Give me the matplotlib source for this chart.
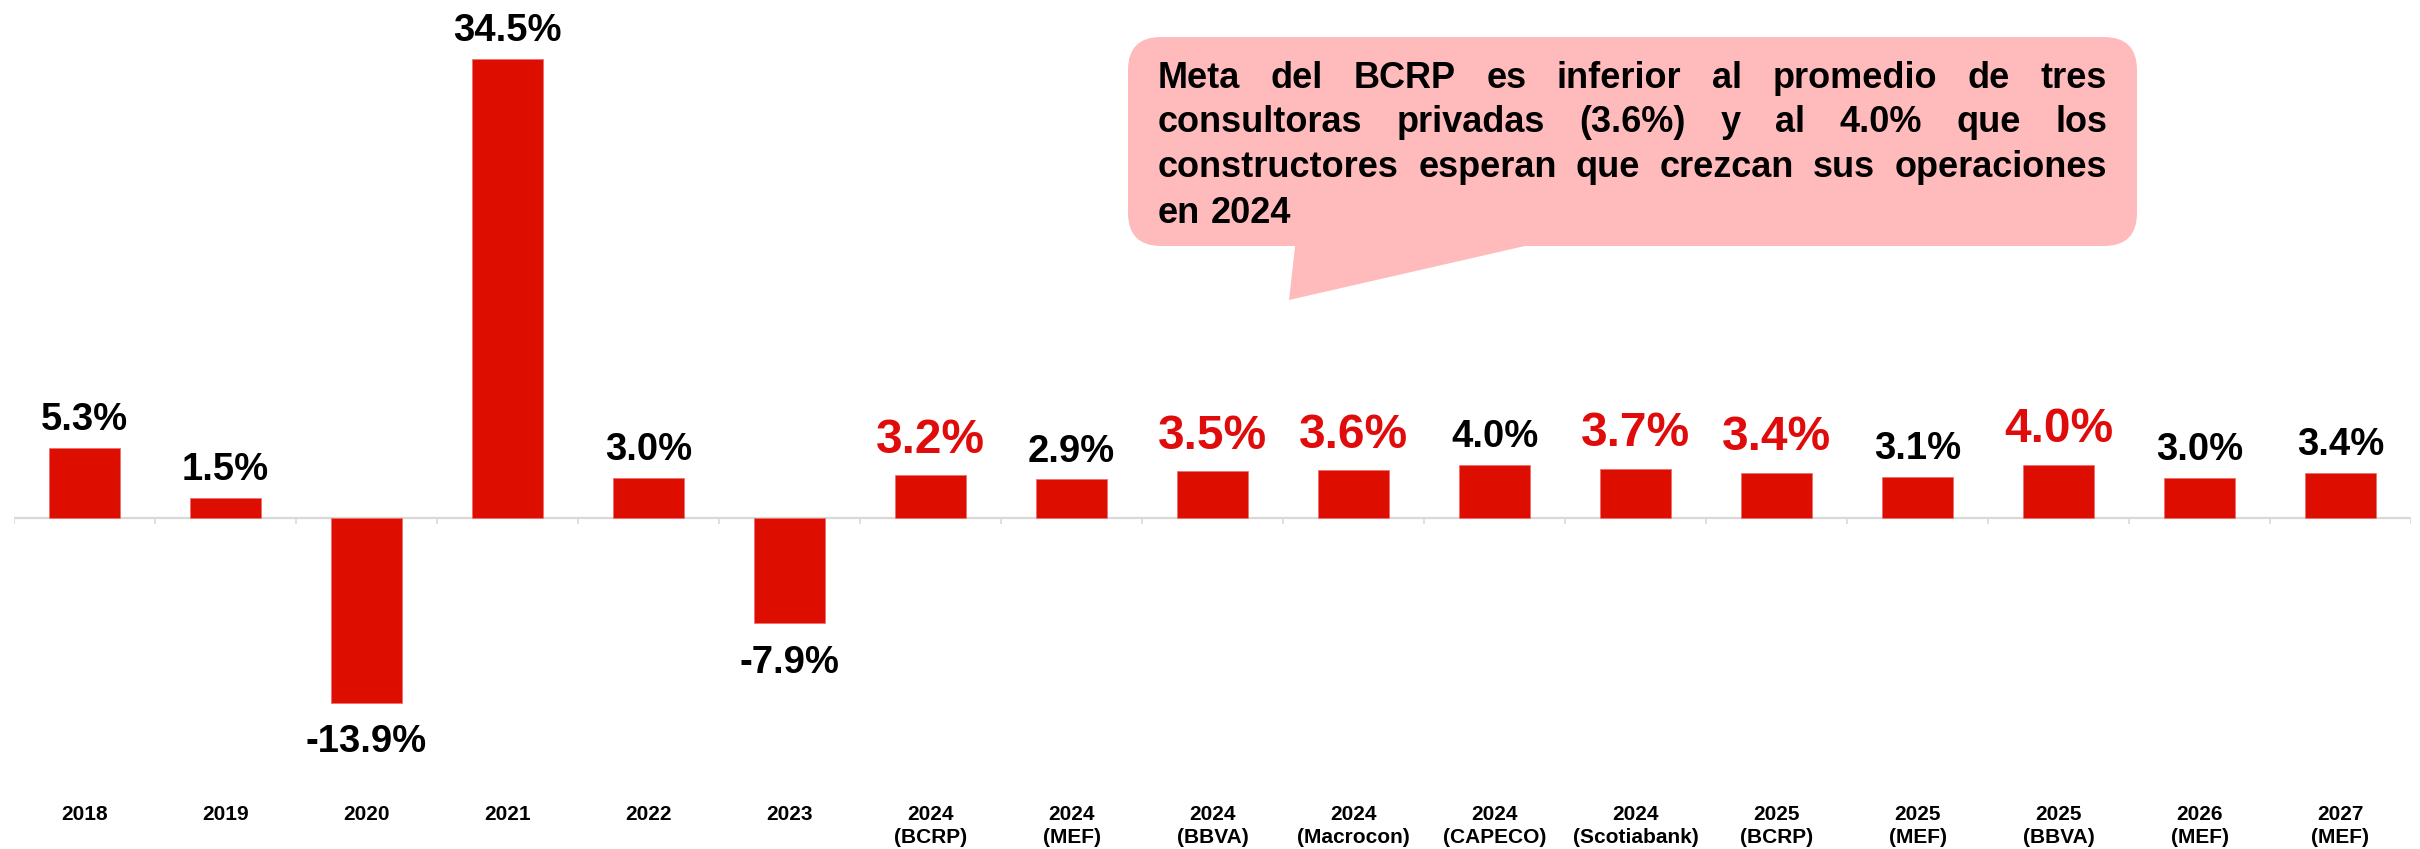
import matplotlib
matplotlib.use("Agg")
import matplotlib.pyplot as plt
import numpy as np
from matplotlib.patches import FancyBboxPatch, Polygon

# ---------------- data ----------------
categories = ["2018", "2019", "2020", "2021", "2022", "2023",
              "2024\n(BCRP)", "2024\n(MEF)", "2024\n(BBVA)", "2024\n(Macrocon)",
              "2024\n(CAPECO)", "2024\n(Scotiabank)", "2025\n(BCRP)", "2025\n(MEF)",
              "2025\n(BBVA)", "2026\n(MEF)", "2027\n(MEF)"]
values = [5.3, 1.5, -13.9, 34.5, 3.0, -7.9, 3.2, 2.9, 3.5, 3.6, 4.0, 3.7, 3.4,
          3.1, 4.0, 3.0, 3.4]
highlight = [False, False, False, False, False, False, True, False, True, True,
             False, True, True, False, True, False, False]
callout_lines = ["Meta del BCRP es inferior al promedio de tres",
                 "consultoras privadas (3.6%) y al 4.0% que los",
                 "constructores esperan que crezcan sus operaciones",
                 "en 2024"]

# ---------------- style ----------------
BAR = "#DD0E00"
RED_TXT = "#E00B0B"
PINK = "#FFBBBB"
AXIS = "#D9D9D9"
plt.rcParams['font.family'] = ['Liberation Sans', 'DejaVu Sans']

W, H, DPI = 2420, 849, 100
fig = plt.figure(figsize=(W / DPI, H / DPI), dpi=DPI)

# axes geometry (pixels from top)
zero_px = 518.0
px_per_unit = 13.3
ax_top_px, ax_bot_px = 0.0, 793.0
left_px, right_px = 14.0, 2411.0
ax = fig.add_axes([left_px / W, 1 - ax_bot_px / H,
                   (right_px - left_px) / W, (ax_bot_px - ax_top_px) / H])
n = len(categories)
x = np.arange(n)
ax.set_xlim(-0.5, n - 0.5)
ax.set_ylim(-(ax_bot_px - zero_px) / px_per_unit, (zero_px - ax_top_px) / px_per_unit)

ax.bar(x, values, width=0.5, color=BAR, edgecolor="#EE7070", linewidth=0.6, zorder=3)

# zero line with category separators
ax.axhline(0, color=AXIS, lw=1.6, zorder=2)
ax.vlines(np.arange(n + 1) - 0.5, -6 / px_per_unit, 0, color=AXIS, lw=1.2, zorder=2)

for s in ax.spines.values():
    s.set_visible(False)
ax.set_yticks([])
ax.set_xticks(x)
ax.set_xticklabels(categories, fontsize=15, fontweight='bold', linespacing=1.25)
ax.tick_params(axis='x', length=0, pad=8.5)

# value labels
for xi, v, h in zip(x, values, highlight):
    label = f"{v:.1f}%"
    if v >= 0:
        if h:
            ax.annotate(label, (xi, v), xytext=(0, 9.0), textcoords='offset points',
                        ha='center', va='bottom', fontsize=34.5, fontweight='bold',
                        color=RED_TXT, zorder=4)
        else:
            ax.annotate(label, (xi, v), xytext=(0, 7.0), textcoords='offset points',
                        ha='center', va='bottom', fontsize=27.5, fontweight='bold',
                        color='black', zorder=4)
    else:
        ax.annotate(label, (xi, v), xytext=(0, -15.5), textcoords='offset points',
                    ha='center', va='top', fontsize=27.5, fontweight='bold',
                    color='black', zorder=4)

# ---------------- callout ----------------
tr = fig.dpi_scale_trans
def inch(xp, yp):
    return (xp / DPI, (H - yp) / DPI)

bx0, bx1, by0, by1 = 1128, 2137, 37, 246
box = FancyBboxPatch(inch(bx0, by1), (bx1 - bx0) / DPI, (by1 - by0) / DPI,
                     boxstyle="round,pad=0,rounding_size=0.33",
                     transform=tr, facecolor=PINK, edgecolor='none', zorder=5)
fig.add_artist(box)
pointer = Polygon([inch(1296, 238), inch(1289, 300), inch(1560, 238)], closed=True,
                  transform=tr, facecolor=PINK, edgecolor='none', zorder=5)
fig.add_artist(pointer)

tx0, tx1 = 1158, 2107
baselines = [88, 132, 177, 223]
renderer = fig.canvas.get_renderer()
fs = 26
for li, (line, base) in enumerate(zip(callout_lines, baselines)):
    words = line.split(" ")
    texts = []
    widths = []
    for w in words:
        t = fig.text(0, 0, w, transform=tr, fontsize=fs, fontweight='bold',
                     ha='left', va='baseline', zorder=6)
        bb = t.get_window_extent(renderer=renderer)
        texts.append(t)
        widths.append(bb.width)
    if li < len(callout_lines) - 1 and len(words) > 1:
        gap = ((tx1 - tx0) - sum(widths)) / (len(words) - 1)
    else:
        sp = fig.text(0, 0, "a a", transform=tr, fontsize=fs, fontweight='bold')
        aa = fig.text(0, 0, "aa", transform=tr, fontsize=fs, fontweight='bold')
        gap = sp.get_window_extent(renderer).width - aa.get_window_extent(renderer).width
        sp.remove(); aa.remove()
    cx = tx0
    for t, wd in zip(texts, widths):
        t.set_position(inch(cx, base))
        cx += wd + gap

fig.savefig("out.png", dpi=DPI)
